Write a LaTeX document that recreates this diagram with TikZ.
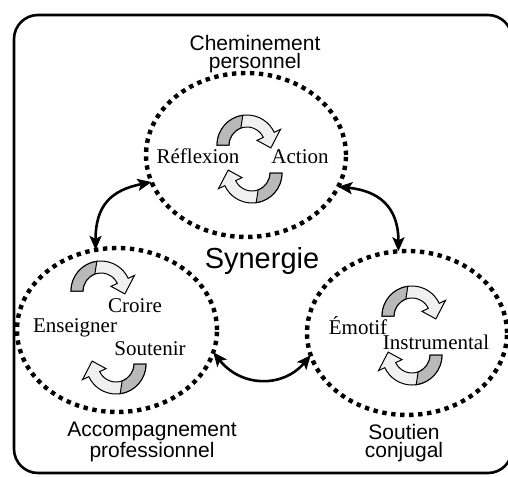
\documentclass[tikz,border=0pt]{standalone}
\usepackage{fontspec}
\setmainfont{Liberation Serif}
\setsansfont{Liberation Sans}
\usetikzlibrary{shapes.geometric}
\usetikzlibrary{arrows.meta}

\begin{document}
\begin{tikzpicture}[x=0.5pt,y=-0.5pt,
    ring/.style={ellipse,draw,minimum width=100pt,minimum height=82pt,
      inner sep=0pt,outer sep=0pt,line width=2.2pt,dash pattern=on 2.2pt off 2.3pt},
    link/.style={line width=1.3pt,
      {Stealth[length=7pt,width=6pt,inset=1.5pt]}-{Stealth[length=7pt,width=6pt,inset=1.5pt]}},
    title/.style={font=\fontsize{10.5}{9}\sffamily,align=center,inner sep=0pt},
    word/.style={font=\fontsize{10.5}{12}\selectfont,anchor=base,inner sep=0pt},
    cycarrow/.pic={
      \filldraw[fill=gray!12,line width=0.5pt]
        (180:30) arc[start angle=180,end angle=335,radius=30] -- (335:37) -- (7:24)
        -- (335:11) -- (335:18) arc[start angle=335,end angle=180,radius=18] -- cycle;
      \filldraw[fill=gray!55,line width=0.5pt]
        (180:30) arc[start angle=180,end angle=262,radius=30] -- (250:18)
        arc[start angle=250,end angle=180,radius=18] -- cycle;
    }]
        \useasboundingbox (0,0) rectangle (508,476);
        \draw[line width=1.3pt,rounded corners=12pt] (14,15) rectangle (512,473);
        % the three circles
        \node[ring] (cheminement) at (246,155) {};
        \node[ring] (accompagnement) at (117,330) {};
        \node[ring] (soutien) at (407,333) {};
        \foreach \ux/\uy/\lx/\ly in {247/145/252/173, 101/291/116/364, 412/316/412/355} {
          \pic at (\ux,\uy) {cycarrow};
          \pic[rotate=180] at (\lx,\ly) {cycarrow};
        }
        \node[title] (chemlabel) at (255,54) {Cheminement\\personnel};
        \node[title] (acclabel) at (152,442) {Accompagnement\\professionnel};
        \node[title] (soulabel) at (404,443) {Soutien\\conjugal};
        \node[font=\fontsize{14.5}{16}\sffamily,anchor=base,inner sep=0pt] (synergie) at (262,268) {Synergie};
        \node[word] (reflexion) at (198,163) {Réflexion};
        \node[word] (action) at (300,163) {Action};
        \node[word] (croire) at (135,312) {Croire};
        \node[word] (enseigner) at (75,332) {Enseigner};
        \node[word] (soutenir) at (150,355) {Soutenir};
        \node[word] (emotif) at (358,334) {Émotif};
        \node[word] (instrumental) at (436,349) {Instrumental};
        % links
        \draw[link] (cheminement.196) .. controls +(-40,8) and +(0,-45) .. (accompagnement.105);
        \draw[link] (cheminement.341) .. controls +(40,4) and +(0,-45) .. (soutien.96);
        \draw[link] (accompagnement.347) .. controls +(28,35) and +(-28,33) .. (soutien.193);
\end{tikzpicture}
\end{document}
